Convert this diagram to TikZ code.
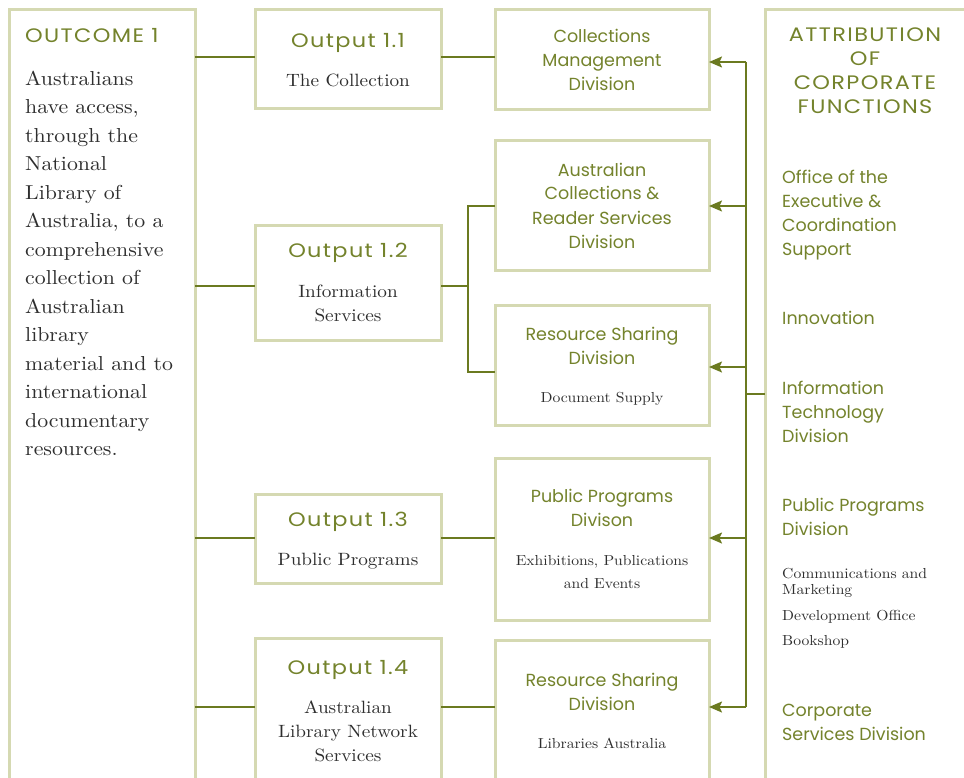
\documentclass[tikz,border=0pt]{standalone}
\usepackage{fontspec}
\newfontfamily\gtitlefont{Poppins}[FakeStretch=1.15,LetterSpace=7]
\newfontfamily\gitemfont{Poppins}
\newfontfamily\serifx{lmroman10-regular.otf}[FakeStretch=1.08]
\usetikzlibrary{arrows.meta}
\definecolor{boxc}{HTML}{D5D9B2}
\definecolor{linec}{HTML}{6B7A20}
\definecolor{gtext}{HTML}{74832C}
\definecolor{btext}{HTML}{2E2E2E}
\begin{document}
\begin{tikzpicture}[x=1pt,y=-1pt,
 boxline/.style={draw=boxc, line width=3pt},
 box/.style={boxline, inner sep=0pt, outer sep=0pt, anchor=north west},
 openbox/.style={draw=none, inner sep=0pt, outer sep=0pt, anchor=north west},
 conn/.style={draw=linec, line width=1.7pt},
 arr/.style={conn, -{Stealth[length=13pt,width=11pt,inset=2.5pt]}},
 gtitle/.style={text=gtext, font=\gtitlefont\fontsize{19.5}{24}\selectfont, align=center, anchor=base, inner sep=0pt},
 gitem/.style={text=gtext, font=\gitemfont\fontsize{17.5}{24}\selectfont, align=center, anchor=base, inner sep=0pt},
 stext/.style={text=btext, font=\serifx\fontsize{17.8}{24}\selectfont, align=center, anchor=base, inner sep=0pt},
 small/.style={text=btext, font=\serifx\fontsize{14.5}{23.5}\selectfont, align=center, anchor=base, inner sep=0pt},
 ritem/.style={gitem, align=left, anchor=base west},
 rsmall/.style={small, align=left, anchor=base west},
]
\useasboundingbox (0,0) rectangle (964,778);
\fill[white] (0,0) rectangle (964,778);

% boxes
\node[openbox, minimum width=186pt, minimum height=800pt] (outcome) at (9,10) {};
\draw[boxline] (outcome.south west) -- (outcome.north west) -- (outcome.north east) -- (outcome.south east);
\node[openbox, minimum width=230pt, minimum height=800pt] (attr) at (765,10) {};
\draw[boxline] (attr.south west) -- (attr.north west) -- (attr.north east);

\node[box, minimum width=186pt, minimum height=99pt] (o11) at (255,10) {};
\node[box, minimum width=186pt, minimum height=114pt] (o12) at (255,226) {};
\node[box, minimum width=186pt, minimum height=89pt] (o13) at (255,494) {};
\node[openbox, minimum width=186pt, minimum height=200pt] (o14) at (255,638) {};
\draw[boxline] (o14.south west) -- (o14.north west) -- (o14.north east) -- (o14.south east);

\node[box, minimum width=214pt, minimum height=100pt] (cmd) at (495,10) {};
\node[box, minimum width=214pt, minimum height=129pt] (acrs) at (495,141) {};
\node[box, minimum width=214pt, minimum height=120pt] (rsd) at (495,305) {};
\node[box, minimum width=214pt, minimum height=162pt] (ppd) at (495,458) {};
\node[openbox, minimum width=214pt, minimum height=200pt] (rsd2) at (495,640) {};
\draw[boxline] (rsd2.south west) -- (rsd2.north west) -- (rsd2.north east) -- (rsd2.south east);

% connectors left
\coordinate (y11) at (0,57);
\coordinate (y12) at (0,286);
\coordinate (y13) at (0,538);
\coordinate (y14) at (0,707);
\draw[conn] (outcome.east |- y11) -- (o11.west |- y11);
\draw[conn] (o11.east |- y11) -- (cmd.west |- y11);
\draw[conn] (outcome.east |- y12) -- (o12.west |- y12);
\coordinate (split) at (468,286);
\draw[conn] (o12.east |- y12) -- (split);
\draw[conn] (acrs.west |- 0,206) -| (split) |- (rsd.west |- 0,372);
\draw[conn] (outcome.east |- y13) -- (o13.west |- y13);
\draw[conn] (o13.east |- y13) -- (ppd.west |- y13);
\draw[conn] (outcome.east |- y14) -- (o14.west |- y14);
\draw[conn] (o14.east |- y14) -- (rsd2.west |- y14);

% bus on right
\coordinate (bustop) at (746,62);
\coordinate (busbot) at (746,707);
\draw[conn] (bustop) -- (busbot);
\draw[arr] (bustop) -- (cmd.east |- bustop);
\draw[arr] (bustop |- 0,206) -- (acrs.east |- 0,206);
\draw[arr] (bustop |- 0,367) -- (rsd.east |- 0,367);
\draw[arr] (bustop |- 0,538) -- (ppd.east |- 0,538);
\draw[arr] (busbot) -- (rsd2.east |- busbot);
\draw[conn] (bustop |- 0,394) -- (attr.west |- 0,394);

% outcome text (base anchor = last line baseline)
\node[gtitle, anchor=base west] (outt) at (25,42.5) {OUTCOME 1};
\node[text=btext, font=\serifx\fontsize{20.2}{28.5}\selectfont, align=left, anchor=base west, inner sep=0pt] (outb) at (25,455.5)
 {Australians\\have access,\\through the\\National\\Library of\\Australia, to a\\comprehensive\\collection of\\Australian\\library\\material and to\\international\\documentary\\resources.};

% output texts
\node[gtitle] (o11t) at (348,48) {Output 1.1};
\node[stext] (o11s) at (348,87) {The Collection};
\node[gtitle] (o12t) at (348,258) {Output 1.2};
\node[stext] (o12s) at (348,321) {Information\\Services};
\node[gtitle] (o13t) at (348,526) {Output 1.3};
\node[stext] (o13s) at (348,565) {Public Programs};
\node[gtitle] (o14t) at (348,674) {Output 1.4};
\node[stext] (o14s) at (348,761) {Australian\\Library Network\\Services};

% division texts
\node[gitem] (cmdt) at (602,91) {Collections\\Management\\Division};
\node[gitem] (acrst) at (602,248) {Australian\\Collections \&\\Reader Services\\Division};
\node[gitem] (rsdt) at (602,364) {Resource Sharing\\Division};
\node[small] (rsds) at (602,402) {Document Supply};
\node[gitem] (ppdt) at (602,526) {Public Programs\\Divison};
\node[small] (ppds) at (602,588.5) {Exhibitions, Publications\\and Events};
\node[gitem] (rsd2t) at (602,710) {Resource Sharing\\Division};
\node[small] (rsd2s) at (602,748) {Libraries Australia};

% attribution texts
\node[gtitle] (attrt) at (865,114) {ATTRIBUTION\\OF\\CORPORATE\\FUNCTIONS};
\node[ritem] (r1) at (782,255) {Office of the\\Executive \&\\Coordination\\Support};
\node[ritem] (r2) at (782,324) {Innovation};
\node[ritem] (r3) at (782,442) {Information\\Technology\\Division};
\node[ritem] (r4) at (782,535) {Public Programs\\Division};
\node[rsmall, font=\serifx\fontsize{14.5}{16}\selectfont] (r5) at (782,594) {Communications and\\Marketing};
\node[rsmall] (r6) at (782,620) {Development Office};
\node[rsmall] (r7) at (782,645) {Bookshop};
\node[ritem] (r8) at (782,740) {Corporate\\Services Division};
\end{tikzpicture}
\end{document}
